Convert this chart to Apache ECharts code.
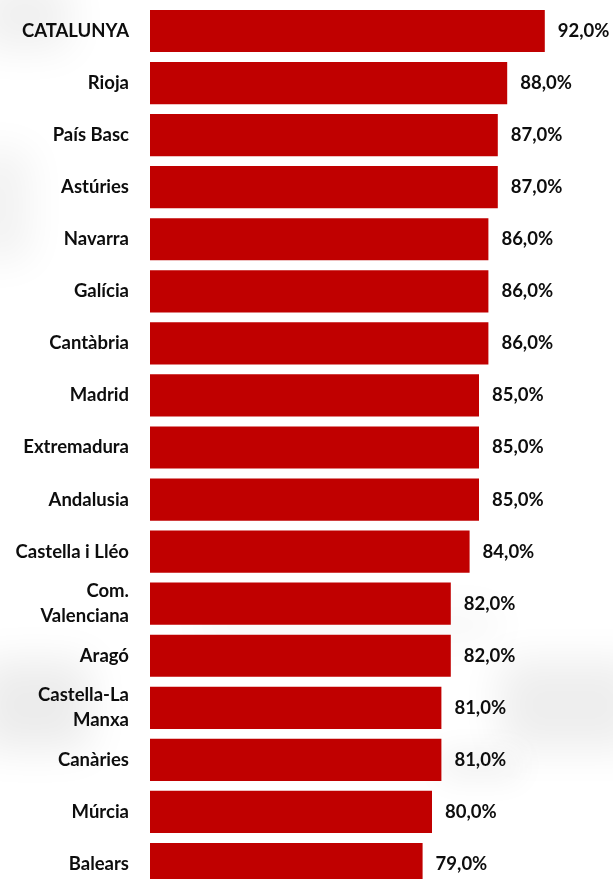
<!DOCTYPE html>
<html><head><meta charset="utf-8">
<style>html,body{margin:0;padding:0;background:#fff}#c{width:613px;height:879px}</style>
<script src="https://cdn.jsdelivr.net/npm/echarts@6/dist/echarts.min.js"></script>
</head><body><div id="c"></div>
<script>
const categories = ["CATALUNYA","Rioja","País Basc","Astúries","Navarra","Galícia","Cantàbria","Madrid","Extremadura","Andalusia","Castella i Lléo","Com.\nValenciana","Aragó","Castella-La\nManxa","Canàries","Múrcia","Balears"];
const values = [92,88,87,87,86,86,86,85,85,85,84,82,82,81,81,80,79];
const chart = echarts.init(document.getElementById('c'), null, {renderer:'canvas'});
const font = 'Lato';
const OFF = 3000;
function blob(x,y,w,h,c,b){return {type:'rect', z:-10, silent:true,
  shape:{x:x-OFF,y:y,width:w,height:h},
  style:{fill:c, shadowBlur:b, shadowColor:c, shadowOffsetX:OFF}};}
chart.setOption({
  backgroundColor:'#ffffff',
  animation:false,
  graphic:[
    blob(-20,-20,90,70,'#f0f0f0',40),
    blob(-30,150,60,110,'#f2f2f2',40),
    blob(-20,660,110,90,'#ececec',40),
    blob(200,610,300,30,'#f6f6f6',40),
    blob(500,660,140,90,'#eeeeee',40),
    blob(440,750,80,30,'#f2f2f2',30)
  ],
  grid:{left:150, top:5, width:470, height:885, containLabel:false, outerBoundsMode:'none'},
  xAxis:{type:'value', min:50, max:100, show:false},
  yAxis:{type:'category', data:categories, inverse:true,
    axisLine:{show:false}, axisTick:{show:false}, splitLine:{show:false},
    axisLabel:{margin:21, color:'#0d0d0d', fontFamily:font, fontWeight:'bold', fontSize:18.5, lineHeight:25, align:'right'}},
  series:[{type:'bar', data:values, barCategoryGap:'19%',
    itemStyle:{color:'#C00000'},
    label:{show:true, position:'right', distance:13, color:'#0d0d0d', fontFamily:font, fontWeight:'bold', fontSize:18.5,
      formatter:p=>p.value.toFixed(1).replace('.',',')+'%'}}]
});
</script></body></html>
